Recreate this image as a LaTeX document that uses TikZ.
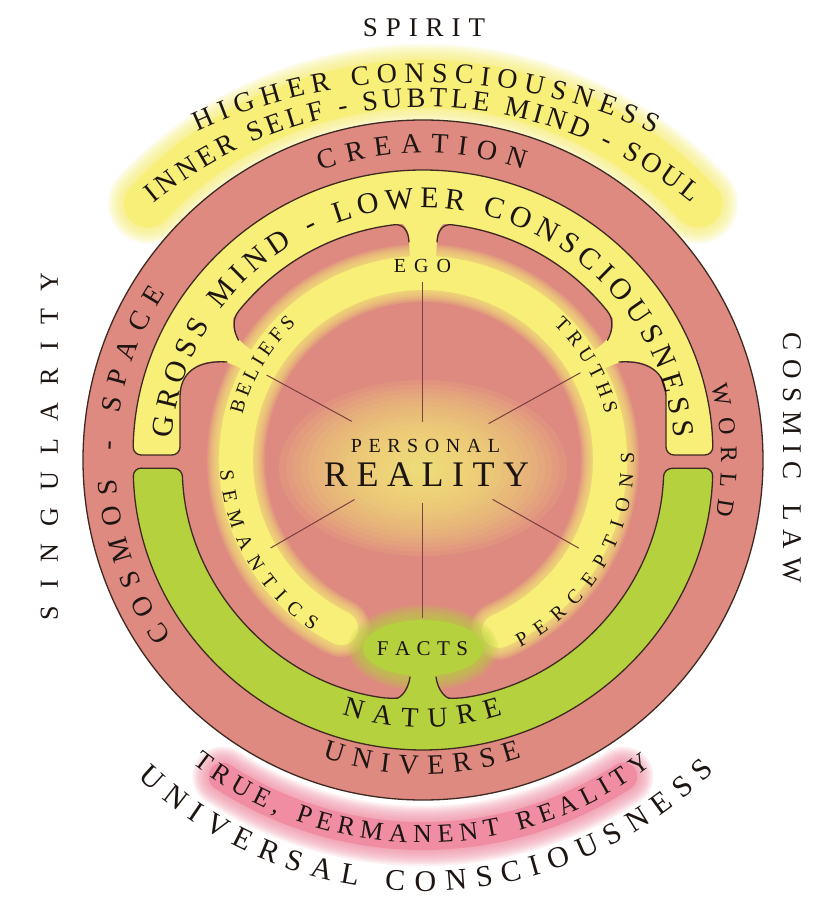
\documentclass[tikz,border=0pt]{standalone}
\usepackage{fontspec}
\setmainfont{Liberation Serif}
\usepackage{tikz}
\usetikzlibrary{decorations.text}

\definecolor{rosepink}{HTML}{DE8A80}
\definecolor{sunyellow}{HTML}{F8EF78}
\definecolor{meadow}{HTML}{B5D13E}
\definecolor{blush}{HTML}{F08DA2}
\definecolor{inkbrown}{HTML}{3E2A22}
\definecolor{spokebrown}{HTML}{7A4040}
\definecolor{inkdark}{HTML}{1C1512}

\tikzset{
  outline/.style={draw=inkbrown, line width=1.3pt, line cap=round},
  spoke/.style={draw=spokebrown, line width=1pt}
}

% soft glowing arc: [centre]{colour}{radius}{start}{end}{core width}{fringe step}
\newcommand{\glowarc}[7][0,0]{%
  \foreach \k in {8,7,...,1}{%
    \pgfmathsetmacro{\glowwidth}{#6+#7*\k}%
    \draw[#2, opacity=0.15, line cap=round, line width=\glowwidth pt, shift={(#1)}]
      (#4:#3) arc[start angle=#4, end angle=#5, radius=#3];
  }%
  \draw[#2, line cap=round, line width=#6pt, shift={(#1)}]
    (#4:#3) arc[start angle=#4, end angle=#5, radius=#3];
}

% lettering bent along an arc: [centre]{size}{radius}{start}{end}{text}
\newcommand{\arclabel}[6][0,0]{%
  \path[shift={(#1)}, decorate, decoration={text along path, text align={fit to path},
      text color=inkdark, text={|\fontsize{#2}{#2}\selectfont|#6}}]
    (#4:#3) arc[start angle=#4, end angle=#5, radius=#3];
}

% lettering spread along a straight run: {size}{from}{to}{text}
\newcommand{\runlabel}[4]{%
  \path[decorate, decoration={text along path, text align={fit to path},
      text color=inkdark, text={|\fontsize{#1}{#1}\selectfont|#4}}] #2 -- #3;
}

\begin{document}
\begin{tikzpicture}[x=1pt, y=1pt]

  \fill[white, use as bounding box] (-423,-437) rectangle (396,460);

  % halos outside the disc
  \glowarc{sunyellow}{376}{137}{43}{48}{4}
  \glowarc[0,-8]{blush}{368}{237}{303}{28}{4}

  % the disc and its glowing heart
  \fill[rosepink] (0,0) circle (340);
  \foreach \k in {20,19,...,1}{
    \fill[sunyellow, opacity=0.09] (0,-8) ellipse ({7.2*\k} and {4.4*\k});
  }

  % inner ring of the mind
  \glowarc{sunyellow}{187}{-66}{244}{34}{3}

  % upper band, with the three openings into the ring
  \fill[sunyellow, rounded corners=8]
    (-196,98) .. controls (-225,100) and (-243,88) .. (-243,55) -- (-243,5)
    -- (179:290) arc[start angle=179, end angle=1, radius=290]
    -- (243,5) -- (243,55) .. controls (243,88) and (225,100) .. (196,98)
    -- (27:180) -- (32:180) -- (184.5,119.8)
    .. controls (189,128) and (191.7,139.9) .. (39:237)
    arc[start angle=39, end angle=83, radius=237]
    .. controls (19,236.4) and (14.5,228) .. (14,218) -- (12,190) -- (-12,190)
    -- (-14,218) .. controls (-14.5,228) and (-19,236.4) .. (97:237)
    arc[start angle=97, end angle=141, radius=237]
    .. controls (-191.7,139.9) and (-189,128) .. (-184.5,119.8)
    -- (148:180) -- (153:180) -- cycle;

  % lower band, opening onto the facts
  \fill[meadow, rounded corners=8]
    (-13,-217) .. controls (-15,-232) and (-24,-238) .. (262:241)
    arc[start angle=262, end angle=182, radius=241]
    -- (181.6:290) arc[start angle=181.6, end angle=358.4, radius=290]
    -- (358:241) arc[start angle=358, end angle=278, radius=241]
    .. controls (24,-238) and (15,-232) .. (13,-217) -- (10,-195) -- (-10,-195) -- cycle;
  \foreach \k in {6,5,...,1}{
    \fill[meadow, opacity=0.18] (0,-188) ellipse ({60+2.5*\k} and {28+2.5*\k});
  }
  \fill[meadow] (0,-188) ellipse (60 and 28);

  % outlines
  \draw[outline] (0,0) circle (340);
  \draw[outline, rounded corners=8]
    (-196,98) .. controls (-225,100) and (-243,88) .. (-243,55) -- (-243,5)
    -- (179:290) arc[start angle=179, end angle=1, radius=290]
    -- (243,5) -- (243,55) .. controls (243,88) and (225,100) .. (196,98);
  \draw[outline]
    (-14,218) .. controls (-14.5,228) and (-19,236.4) .. (97:237)
    arc[start angle=97, end angle=141, radius=237]
    .. controls (-191.7,139.9) and (-189,128) .. (-184.5,119.8);
  \draw[outline]
    (14,218) .. controls (14.5,228) and (19,236.4) .. (83:237)
    arc[start angle=83, end angle=39, radius=237]
    .. controls (191.7,139.9) and (189,128) .. (184.5,119.8);
  \draw[outline, rounded corners=8]
    (-13,-217) .. controls (-15,-232) and (-24,-238) .. (262:241)
    arc[start angle=262, end angle=182, radius=241]
    -- (181.6:290) arc[start angle=181.6, end angle=358.4, radius=290]
    -- (358:241) arc[start angle=358, end angle=278, radius=241]
    .. controls (24,-238) and (15,-232) .. (13,-217);

  % spokes out of the centre
  \foreach \a/\ri/\ro in {90/38/178, 270/43/158, 151.5/81/178,
                          29/75/180, 210/79/176, 330.5/80/179}{
    \draw[spoke] (\a:\ri) -- (\a:\ro);
  }

  % outer words
  \runlabel{27}{(-60,423)}{(62,423)}{SPIRIT}
  \arclabel[0,-160]{28}{538}{114.8}{64.5}{HIGHER CONSCIOUSNESS}
  \arclabel[0,-71]{28}{424}{129.5}{50.7}{INNER SELF - SUBTLE MIND - SOUL}
  \runlabel{26}{(-365,-160)}{(-365,187)}{SINGULARITY}
  \runlabel{27}{(360,127)}{(360,-123)}{COSMIC LAW}
  \arclabel[0,-8]{26}{375}{232}{307.5}{TRUE, PERMANENT REALITY}
  \arclabel[0,-17]{30}{414}{226.5}{314.7}{UNIVERSAL CONSCIOUSNESS}

  % ring words
  \arclabel{28}{307}{109.4}{70.9}{CREATION}
  \arclabel{28}{307}{215}{147}{COSMOS - SPACE}
  \arclabel{24}{298}{14.5}{-10.7}{WORLD}
  \arclabel{28}{314}{251.3}{288.4}{UNIVERSE}
  \arclabel{30}{252}{175}{5}{GROSS MIND - LOWER CONSCIOUSNESS}
  \arclabel{28}{267}{252.3}{287.4}{NATURE}

  % inner words
  \runlabel{20}{(-29,187)}{(28,187)}{EGO}
  \arclabel{20}{186}{166}{133}{BELIEFS}
  \arclabel{20}{188}{46}{14}{TRUTHS}
  \arclabel{20}{203}{183}{237}{SEMANTICS}
  \arclabel{20}{211}{297.5}{362}{PERCEPTIONS}
  \runlabel{21}{(-46,-195)}{(45,-195)}{FACTS}
  \runlabel{20}{(-72,7)}{(77,7)}{PERSONAL}
  \runlabel{36}{(-99,-27)}{(106,-27)}{REALITY}

\end{tikzpicture}
\end{document}
